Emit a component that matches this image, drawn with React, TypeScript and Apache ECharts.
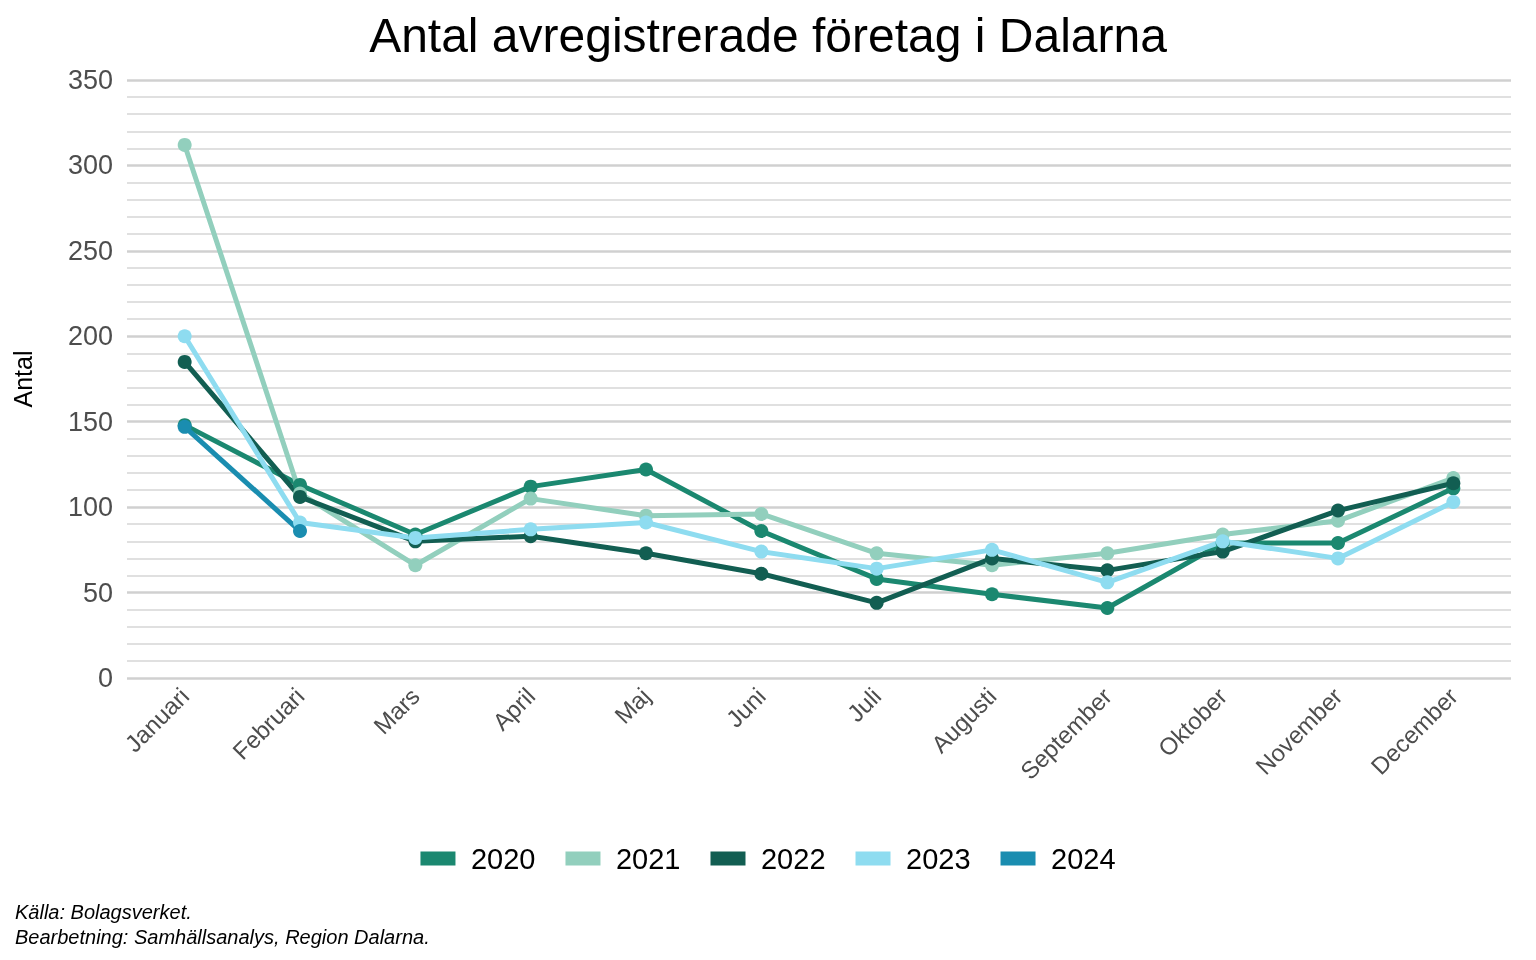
import React from 'react';
import * as echarts from 'echarts';

const months = ['Januari', 'Februari', 'Mars', 'April', 'Maj', 'Juni', 'Juli', 'Augusti', 'September', 'Oktober', 'November', 'December'];
const y2020 = [148, 113, 84, 112, 122, 86, 58, 49, 41, 79, 79, 111];
const y2021 = [312, 108, 66, 105, 95, 96, 73, 66, 73, 84, 92, 117];
const y2022 = [185, 106, 80, 83, 73, 61, 44, 70, 63, 74, 98, 114];
const y2023 = [200, 91, 82, 87, 91, 74, 64, 75, 56, 80, 70, 103];
const y2024 = [147, 86];

const seriesDefs = [
  { name: '2020', data: y2020, color: '#1b8870' },
  { name: '2021', data: y2021, color: '#92cfbd' },
  { name: '2022', data: y2022, color: '#125e52' },
  { name: '2023', data: y2023, color: '#8edcf0' },
  { name: '2024', data: y2024, color: '#1a8db0' },
];

export default function App() {
  const ref = React.useRef<HTMLDivElement>(null);

  React.useEffect(() => {
    if (!ref.current) return;
    const chart = echarts.init(ref.current, null, { renderer: 'svg' });
    chart.setOption({
      animation: false,
      textStyle: { fontFamily: 'Liberation Sans, Arial, sans-serif' },
      title: {
        text: 'Antal avregistrerade företag i Dalarna',
        left: 'center',
        top: 6,
        textStyle: { fontSize: 48, fontWeight: 'normal', color: '#000' },
      },
      grid: { left: 127, right: 25, top: 80, bottom: 282 },
      legend: {
        bottom: 82,
        left: 'center',
        itemWidth: 44,
        itemHeight: 14,
        itemGap: 30,
        textStyle: { fontSize: 29, color: '#000', padding: [0, 0, 0, 6] },
        data: seriesDefs.map(s => ({ name: s.name, icon: 'path://M0,4 L10,4 L10,8 L0,8 Z' })),
      },
      graphic: [
        { type: 'text', left: 15, top: 902, style: { text: 'Källa: Bolagsverket.', font: 'italic 20px Liberation Sans, Arial', fill: '#000' } },
        { type: 'text', left: 15, top: 927, style: { text: 'Bearbetning: Samhällsanalys, Region Dalarna.', font: 'italic 20px Liberation Sans, Arial', fill: '#000' } },
      ],
      xAxis: {
        type: 'category',
        data: months,
        boundaryGap: true,
        axisLine: { show: false },
        axisTick: { show: false },
        axisLabel: { rotate: 45, fontSize: 24, color: '#4d4d4d', margin: 14 },
      },
      yAxis: {
        type: 'value',
        min: 0,
        max: 350,
        interval: 50,
        name: 'Antal',
        nameLocation: 'middle',
        nameGap: 92,
        nameTextStyle: { fontSize: 25, color: '#000' },
        axisLabel: { fontSize: 27, color: '#4d4d4d', margin: 14 },
        axisLine: { show: false },
        axisTick: { show: false },
        splitLine: { lineStyle: { color: '#d0d0d0', width: 2.5 } },
        minorTick: { show: false, splitNumber: 5 },
        minorSplitLine: { show: true, lineStyle: { color: '#d6d6d6', width: 1.5 } },
      },
      series: seriesDefs.map(s => ({
        name: s.name,
        type: 'line',
        data: s.data,
        color: s.color,
        symbol: 'circle',
        symbolSize: 14,
        lineStyle: { width: 5 },
      })),
    });
    return () => chart.dispose();
  }, []);

  return <div ref={ref} style={{ position: 'fixed', left: 0, top: 0, width: 1536, height: 960 }} />;
}
